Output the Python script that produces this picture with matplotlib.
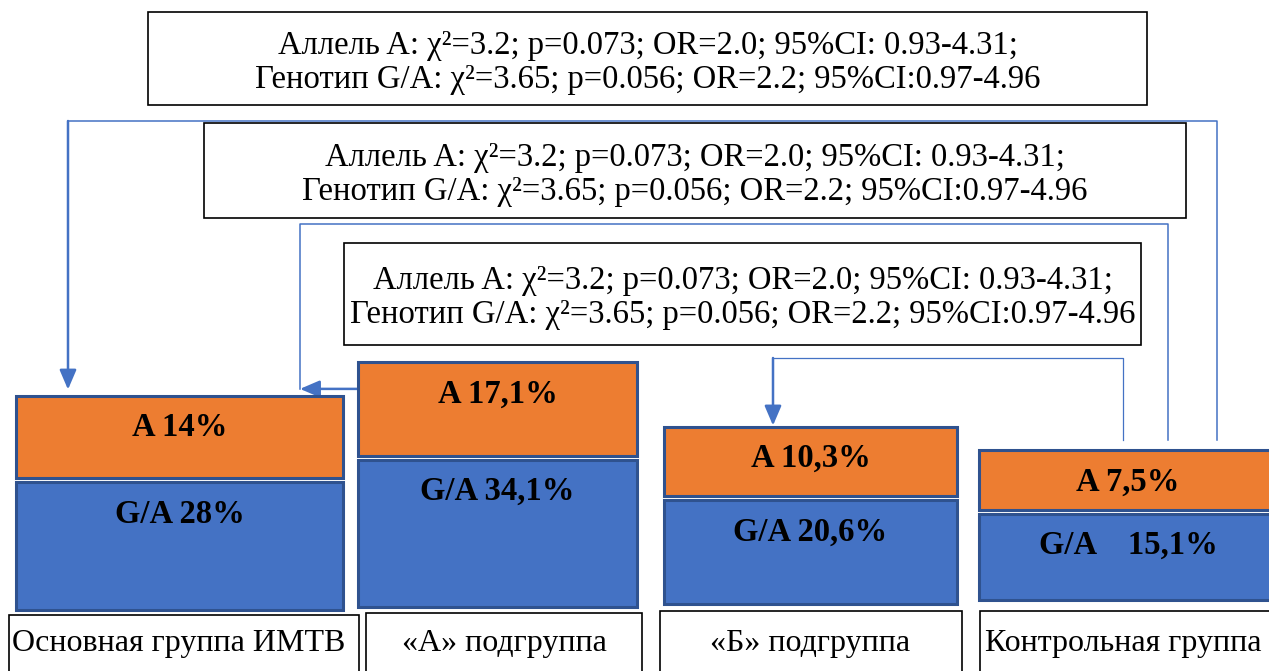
import matplotlib
matplotlib.use("Agg")
import matplotlib.pyplot as plt
from matplotlib.patches import Rectangle

# ---------------- data ----------------
groups = ["Основная группа ИМТВ", "«А» подгруппа", "«Б» подгруппа", "Контрольная группа"]
allele_A = [14, 17.1, 10.3, 7.5]          # % allele A
genotype_GA = [28, 34.1, 20.6, 15.1]      # % genotype G/A
allele_labels = ["A 14%", "A 17,1%", "A 10,3%", "A 7,5%"]
genotype_labels = ["G/A 28%", "G/A 34,1%", "G/A 20,6%", "G/A    15,1%"]
stat_line1 = "Аллель A: χ²=3.2; p=0.073; OR=2.0; 95%CI: 0.93-4.31;"
stat_line2 = "Генотип G/A: χ²=3.65; p=0.056; OR=2.2; 95%CI:0.97-4.96"

# ---------------- layout (pixel space) ----------------
W, H = 1269, 671
bar_left = [16, 358, 664, 979]
bar_width = [327, 279, 293, 298]
baseline = [610, 607, 604, 600]
gap = 4
# value -> block height (px)
ga_scale, ga_offset = 3.21, 37.8
a_scale, a_offset = 3.57, 32.8

ORANGE = "#ED7D31"
BLUE = "#4472C4"
EDGE = "#2F528F"
LINE = "#4472C4"
SERIF = ["Liberation Serif", "DejaVu Serif"]

fig = plt.figure(figsize=(W / 100, H / 100), dpi=100)
ax = fig.add_axes([0, 0, 1, 1])
ax.set_xlim(0, W)
ax.set_ylim(H, 0)
ax.axis("off")

ga_h = [v * ga_scale + ga_offset for v in genotype_GA]
a_h = [v * a_scale + a_offset for v in allele_A]
ga_top = [b - h for b, h in zip(baseline, ga_h)]
a_bottom = [t - gap for t in ga_top]
a_top = [b - h for b, h in zip(a_bottom, a_h)]

ax.bar(bar_left, ga_h, width=bar_width, bottom=ga_top, align="edge",
       color=BLUE, edgecolor=EDGE, linewidth=2.2, zorder=3)
ax.bar(bar_left, a_h, width=bar_width, bottom=a_top, align="edge",
       color=ORANGE, edgecolor=EDGE, linewidth=2.2, zorder=3)

for i in range(4):
    cx = bar_left[i] + bar_width[i] / 2
    ax.text(cx, a_top[i] + 32, allele_labels[i], ha="center", va="center",
            family=SERIF, fontweight="bold", fontsize=23.5, zorder=4)
    ax.text(cx, ga_top[i] + 32, genotype_labels[i], ha="center", va="center",
            family=SERIF, fontweight="bold", fontsize=23.5, zorder=4)

# group label boxes
lab_box = [(9, 615, 350), (366, 613, 276), (660, 611, 302), (980, 611, 300)]
lab_cx = [179, 504, 810, 1123]
for (x0, y0, w), lx, name in zip(lab_box, lab_cx, groups):
    ax.add_patch(Rectangle((x0, y0), w, 80, facecolor="white", edgecolor="black",
                           linewidth=1.2, zorder=2))
    ax.text(lx, 643, name, ha="center", va="center", family=SERIF, fontsize=23, zorder=4)

# statistics boxes
stat_boxes = [(148, 12, 999, 93), (204, 123, 982, 95), (344, 243, 797, 102)]
for (x0, y0, w, h) in stat_boxes:
    ax.add_patch(Rectangle((x0, y0), w, h, facecolor="white", edgecolor="black",
                           linewidth=1.2, zorder=2))
    cx = x0 + w / 2
    ax.text(cx, y0 + h / 2 - 13, stat_line1, ha="center", va="center",
            family=SERIF, fontsize=23.5, zorder=4)
    ax.text(cx, y0 + h / 2 + 21, stat_line2, ha="center", va="center",
            family=SERIF, fontsize=23.5, zorder=4)

# connectors
src_top = a_top[3] - 10
arrow_kw = dict(arrowstyle="-|>,head_length=0.7,head_width=0.3", color=LINE,
                lw=1.8, shrinkA=0, shrinkB=0, mutation_scale=17)
# outer: control -> main group
ax.plot([1217, 1217, 68], [src_top, 121, 121], color=LINE, lw=1.1, zorder=1)
ax.annotate("", xy=(68, a_top[0] - 6), xytext=(68, 121), arrowprops=arrow_kw, zorder=1)
# middle: control -> subgroup A
ax.plot([1168, 1168, 300, 300], [src_top, 224, 224, a_top[1] + 27], color=LINE, lw=1.1, zorder=1)
ax.annotate("", xy=(300, a_top[1] + 27), xytext=(bar_left[1], a_top[1] + 27),
            arrowprops=arrow_kw, zorder=1)
# inner: control -> subgroup B
ax.plot([1123, 1123, 773], [src_top, 358, 358], color=LINE, lw=0.9, zorder=1)
ax.annotate("", xy=(773, a_top[2] - 1), xytext=(773, 358), arrowprops=arrow_kw, zorder=1)

fig.savefig("out.png", dpi=100)
